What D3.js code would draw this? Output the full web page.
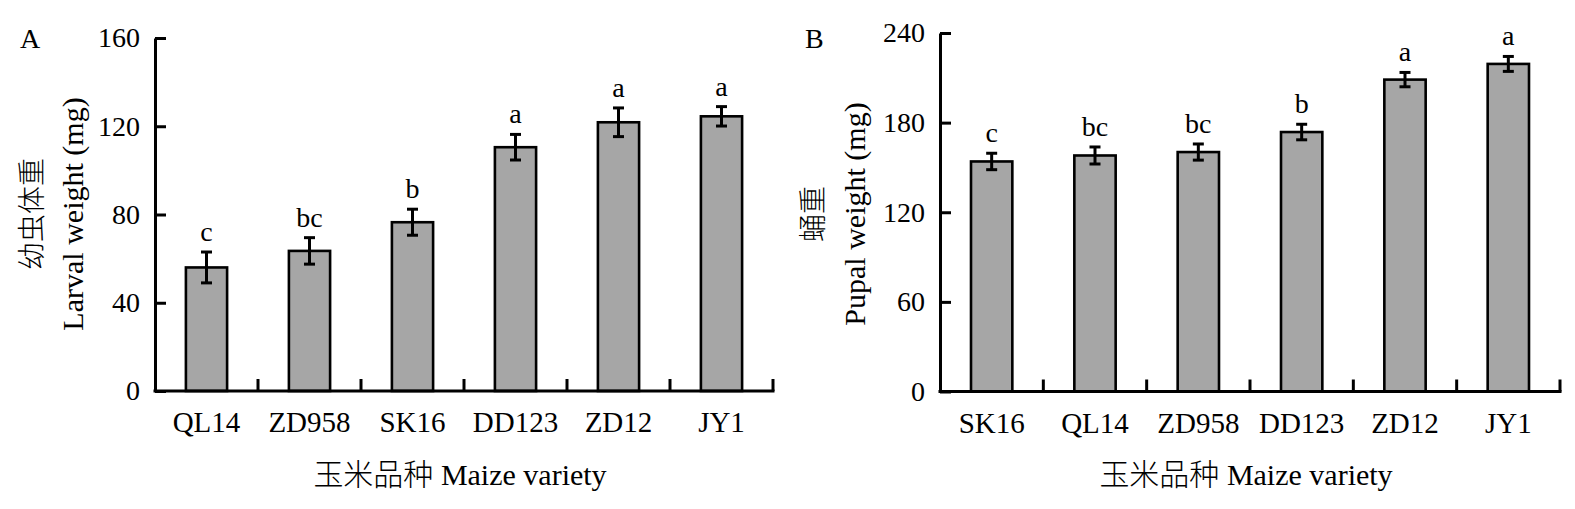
<!DOCTYPE html>
<html>
<head>
<meta charset="utf-8">
<script src="https://cdn.jsdelivr.net/npm/d3@7"></script>
<style>
  html, body { margin: 0; padding: 0; background: #fff; }
  svg { display: block; }
  text { font-family: "Liberation Serif", "Times New Roman", "Noto Sans CJK SC", serif; fill: #000; }
  .cn { font-weight: 300; }
</style>
</head>
<body>
<svg id="chart" width="1575" height="509"></svg>
<script>
// Panel A: larval weight by maize variety
const larvalVarieties = ["QL14", "ZD958", "SK16", "DD123", "ZD12", "JY1"];
const larvalMeans     = [56, 63.5, 76.5, 110.5, 121.8, 124.5];
const larvalErrors    = [7, 6, 5.9, 5.8, 6.5, 4.4];
const larvalLetters   = ["c", "bc", "b", "a", "a", "a"];
const larvalTicks     = [0, 40, 80, 120, 160];

// Panel B: pupal weight by maize variety
const pupalVarieties = ["SK16", "QL14", "ZD958", "DD123", "ZD12", "JY1"];
const pupalMeans     = [154, 158, 160.3, 173.7, 208.8, 219.3];
const pupalErrors    = [5.5, 5.7, 5.4, 5.2, 4.8, 5];
const pupalLetters   = ["c", "bc", "bc", "b", "a", "a"];
const pupalTicks     = [0, 60, 120, 180, 240];

const svg = d3.select("#chart");

function drawPanel(opt) {
  const g = svg.append("g");
  const x = d3.scaleBand()
    .domain(opt.cats)
    .range([opt.left, opt.right])
    .paddingInner(0.6)
    .paddingOuter(0.3);
  const y = d3.scaleLinear()
    .domain([0, opt.max])
    .range([opt.bottom, opt.top]);
  const step = x.step();
  const bw = x.bandwidth();

  // bars
  g.selectAll("rect.bar")
    .data(opt.cats)
    .join("rect")
    .attr("class", "bar")
    .attr("x", d => x(d))
    .attr("width", bw)
    .attr("y", (d, i) => y(opt.means[i]))
    .attr("height", (d, i) => y(0) - y(opt.means[i]))
    .attr("fill", "#a6a6a6")
    .attr("stroke", "#000")
    .attr("stroke-width", 2.6);

  // error bars
  const capHalf = 5.5;
  opt.cats.forEach((c, i) => {
    const cx = x(c) + bw / 2;
    const hi = y(opt.means[i] + opt.errs[i]);
    const lo = y(opt.means[i] - opt.errs[i]);
    const eg = g.append("g").attr("stroke", "#000").attr("stroke-width", 3);
    eg.append("line").attr("x1", cx).attr("x2", cx).attr("y1", hi).attr("y2", lo);
    eg.append("line").attr("x1", cx - capHalf).attr("x2", cx + capHalf).attr("y1", hi).attr("y2", hi);
    eg.append("line").attr("x1", cx - capHalf).attr("x2", cx + capHalf).attr("y1", lo).attr("y2", lo);
    // significance letters
    g.append("text")
      .attr("x", cx)
      .attr("y", hi - 11)
      .attr("text-anchor", "middle")
      .attr("font-size", 28)
      .text(opt.letters[i]);
  });

  // y axis with inward ticks
  const yAxis = d3.axisLeft(y)
    .tickValues(opt.ticks)
    .tickSizeInner(-11)
    .tickSizeOuter(0)
    .tickPadding(15)
    .tickFormat(d3.format("d"));
  const ya = g.append("g")
    .attr("transform", `translate(${opt.left},0)`)
    .call(yAxis);
  ya.select(".domain").attr("stroke", "#000").attr("stroke-width", 3);
  ya.selectAll(".tick line").attr("stroke", "#000").attr("stroke-width", 3);
  ya.selectAll(".tick text")
    .attr("font-size", 28)
    .attr("fill", "#000");

  // x axis baseline
  g.append("line")
    .attr("x1", opt.left - 1.5).attr("x2", opt.right + 1.5)
    .attr("y1", y(0)).attr("y2", y(0))
    .attr("stroke", "#000").attr("stroke-width", 3);

  // upward separator ticks between categories
  g.selectAll("line.sep")
    .data(opt.cats)
    .join("line")
    .attr("class", "sep")
    .attr("x1", d => x(d) + bw + (step - bw) / 2)
    .attr("x2", d => x(d) + bw + (step - bw) / 2)
    .attr("y1", y(0))
    .attr("y2", y(0) - 12)
    .attr("stroke", "#000")
    .attr("stroke-width", 3);

  // category labels
  g.selectAll("text.cat")
    .data(opt.cats)
    .join("text")
    .attr("class", "cat")
    .attr("x", d => x(d) + bw / 2)
    .attr("y", y(0) + 41)
    .attr("text-anchor", "middle")
    .attr("font-size", 29)
    .text(d => d);

  // x axis title
  const xt = g.append("text")
    .attr("x", (opt.left + opt.right) / 2 - 4)
    .attr("y", 485)
    .attr("text-anchor", "middle")
    .attr("font-size", 30);
  xt.append("tspan").attr("class", "cn").text("玉米品种");
  xt.append("tspan").text(" Maize variety");

  // y axis titles (Chinese and English lines)
  const midY = opt.titleY;
  g.append("text")
    .attr("class", "cn")
    .attr("transform", `translate(${opt.cnX},${midY}) rotate(-90)`)
    .attr("text-anchor", "middle")
    .attr("dominant-baseline", "central")
    .attr("font-size", 28)
    .text(opt.cnTitle);
  g.append("text")
    .attr("transform", `translate(${opt.enX},${midY}) rotate(-90)`)
    .attr("text-anchor", "middle")
    .attr("dominant-baseline", "central")
    .attr("font-size", 30)
    .text(opt.enTitle);

  // panel letter
  g.append("text")
    .attr("x", opt.letterX)
    .attr("y", 48)
    .attr("font-size", 28)
    .text(opt.panel);
}

drawPanel({
  cats: larvalVarieties, means: larvalMeans, errs: larvalErrors, letters: larvalLetters,
  ticks: larvalTicks, max: 160,
  left: 155, right: 773, top: 38, bottom: 391,
  cnTitle: "幼虫体重", enTitle: "Larval weight (mg)",
  cnX: 32, enX: 72, titleY: 214, panel: "A", letterX: 20
});

drawPanel({
  cats: pupalVarieties, means: pupalMeans, errs: pupalErrors, letters: pupalLetters,
  ticks: pupalTicks, max: 240,
  left: 940, right: 1560, top: 33, bottom: 391.5,
  cnTitle: "蛹重", enTitle: "Pupal weight (mg)",
  cnX: 813, enX: 854, titleY: 214, panel: "B", letterX: 805
});
</script>
</body>
</html>
